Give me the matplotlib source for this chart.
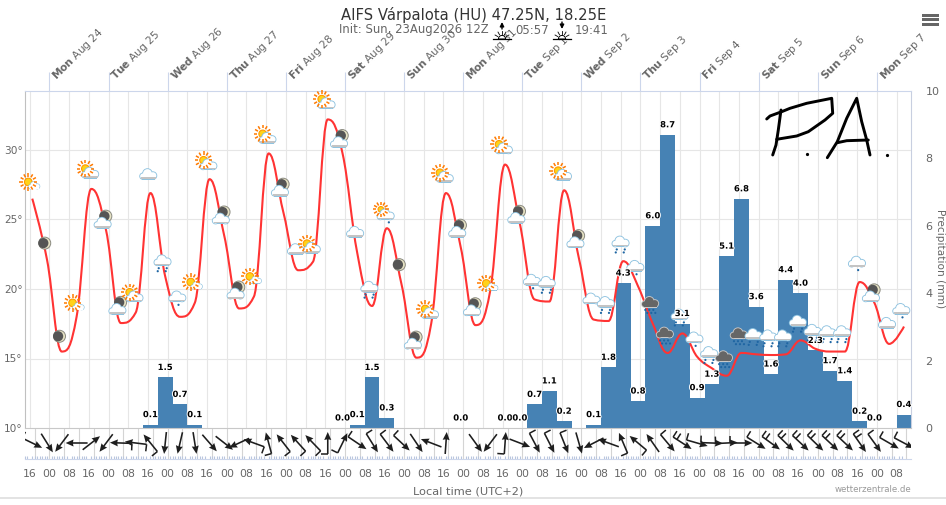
import numpy as np
import matplotlib
matplotlib.use("Agg")
import matplotlib.pyplot as plt
import matplotlib.patheffects as pe
from matplotlib.path import Path
from matplotlib.patches import PathPatch, Circle, Rectangle, Wedge

W, H = 946, 505
GREY = "#666666"
AXIS_BLUE = "#ccd6eb"
GRID = "#e6e6e6"

# one step every 6 hours, counted in hours from Mon Aug 24 00:00
hours = list(range(-7, 348, 6))
temperature = [26.5, 22.1, 15.5, 18.0, 27.2, 24.2, 17.55, 18.3, 26.9, 20.9,
               18.0, 19.0, 27.9, 23.8, 18.6, 19.45, 29.75, 25.5, 21.35, 21.96,
               32.2, 29.76, 22.57, 18.78, 24.37, 20.3, 15.06, 17.5, 26.9, 23.0,
               17.4, 19.9, 28.95, 24.7, 19.25, 19.1, 27.1, 22.2, 17.8, 17.7,
               22.0, 20.2, 17.5, 15.4, 16.8, 15.13, 14.3, 13.76, 15.4, 15.3,
               15.25, 15.3, 16.3, 15.7, 15.5, 15.5, 20.5, 19.0, 16.05, 17.3]
rain = [None, None, None, None, None, None, None, None, 0.1, 1.5,
        0.7, 0.1, None, None, None, None, None, None, None, None,
        None, 0.0, 0.1, 1.5, 0.3, None, None, None, None, 0.0,
        None, None, 0.0, 0.0, 0.7, 1.1, 0.2, None, 0.1, 1.8,
        4.3, 0.8, 6.0, 8.7, 3.1, 0.9, 1.3, 5.1, 6.8, 3.6,
        1.6, 4.4, 4.0, 2.3, 1.7, 1.4, 0.2, 0.0, None, 0.4]
icon_kind = ["sun", "moon", "moon", "sun", "sunc", "moonc", "moonc", "sunc", "cloud", "rain",
             "rain1", "sun", "sunc", "moonc", "moonc", "sun", "sunc", "moonc", "cloud", "sunc",
             "sunc", "moonc", "cloud", "rain", "sunr", "moon", "moonc", "sunc", "sunc", "moonc",
             "moonc", "sun", "sunc", "moonc", "rain1", "rain", "sunc", "moonc", "cloud", "rain",
             "rain", "rain1", "storm", "storm", "rain", "rain1", "rain", "storm", "storm", "rain",
             "rain", "rain", "rain", "rain", "rain", "rain", "rain1", "moonc", "cloud", "rain1"]
icon_temp = [27.7, 23.3, 16.6, 19.0, 28.3, 24.7, 18.5, 19.4, 28.2, 22.0,
             19.4, 20.5, 28.9, 25.0, 19.6, 20.9, 30.8, 27.0, 22.8, 22.9,
             33.3, 30.5, 24.05, 20.1, 25.3, 21.75, 16.0, 18.2, 28.0, 24.05,
             18.4, 20.4, 30.05, 25.05, 20.6, 20.45, 28.15, 23.3, 19.25, 19.0,
             23.35, 21.6, 19.0, 16.8, 18.1, 16.45, 15.4, 15.1, 16.75, 16.7,
             16.6, 16.6, 17.65, 17.0, 16.9, 16.9, 21.9, 19.4, 17.5, 18.5]
# heading of the arrow in degrees clockwise from north, None = no arrow
wind_heading = [116, 148, 217, 270, 52, 217, 272, 277, 321, 186,
                193, 171, 139, 128, 245, 290, 345, 322, 318, 316,
                0, 26, 124, 148, 143, 133, 146, 291, 4, None,
                144, 217, 4, 111, 152, 153, 158, 164, 243, 290,
                337, 310, 325, 140, 123, 106, 92, 87, 90, 122,
                126, 134, 133, 134, 133, 133, 145, 144, 120, 118]
wind_barbs = [1, 0, 0, 0, 0, 0, 1, 1, 1, 0,
              0, 0, 0, 0, 0, 1, 1, 1, 1, 1,
              1, 1, 1, 1, 1, 1, 0, 0, 0, 0,
              0, 0, 1, 0, 1, 1, 1, 0, 0, 0,
              1, 1, 0, 1, 2, 1, 1, 1, 1, 1,
              2, 2, 2, 2, 2, 2, 2, 1, 1, 1]

day_hours = list(range(0, 337, 24))
day_names = ["Mon", "Tue", "Wed", "Thu", "Fri", "Sat", "Sun", "Mon", "Tue", "Wed", "Thu", "Fri", "Sat", "Sun", "Mon"]
day_dates = ["Aug 24", "Aug 25", "Aug 26", "Aug 27", "Aug 28", "Aug 29", "Aug 30", "Aug 31",
             "Sep 1", "Sep 2", "Sep 3", "Sep 4", "Sep 5", "Sep 6", "Sep 7"]
temp_ticks = [10, 15, 20, 25, 30]
rain_ticks = [0, 2, 4, 6, 8, 10]
time_ticks = list(range(-8, 345, 8))
time_labels = ["16", "00", "08"] * 15


def make_axes(left, top, right, bottom):
    return fig.add_axes([left / W, 1 - bottom / H, (right - left) / W, (bottom - top) / H])


def spline_path(xs, ys):
    # same rule as a highcharts spline, smoothing 1.5
    n = len(xs)
    left_c = [(xs[i], ys[i]) for i in range(n)]
    right_c = [(xs[i], ys[i]) for i in range(n)]
    for i in range(1, n - 1):
        lx = (1.5 * xs[i] + xs[i - 1]) / 2.5
        ly = (1.5 * ys[i] + ys[i - 1]) / 2.5
        rx = (1.5 * xs[i] + xs[i + 1]) / 2.5
        ry = (1.5 * ys[i] + ys[i + 1]) / 2.5
        corr = (ry - ly) * (rx - xs[i]) / (rx - lx) + ys[i] - ry
        ly += corr
        ry += corr
        if ly > ys[i - 1] and ly > ys[i]:
            ly = max(ys[i - 1], ys[i])
            ry = 2 * ys[i] - ly
        elif ly < ys[i - 1] and ly < ys[i]:
            ly = min(ys[i - 1], ys[i])
            ry = 2 * ys[i] - ly
        if ry > ys[i + 1] and ry > ys[i]:
            ry = max(ys[i + 1], ys[i])
            ly = 2 * ys[i] - ry
        elif ry < ys[i + 1] and ry < ys[i]:
            ry = min(ys[i + 1], ys[i])
            ly = 2 * ys[i] - ry
        left_c[i] = (lx, ly)
        right_c[i] = (rx, ry)
    verts = [(xs[0], ys[0])]
    codes = [Path.MOVETO]
    for i in range(1, n):
        verts += [right_c[i - 1], left_c[i], (xs[i], ys[i])]
        codes += [Path.CURVE4] * 3
    return Path(verts, codes)


def draw_cloud(cx, cy, scale=1.0, face="#ffffff", edge="#8fc3e0", base="#c4c4c4"):
    parts = [(-5.5, 1.2, 2.8), (-1, -1.5, 4.4), (4.5, 0.6, 3.4)]
    for dx, dy, r in parts:
        ov.add_patch(Circle((cx + dx * scale, cy + dy * scale), (r + 0.9) * scale, color=edge, lw=0))
    ov.add_patch(Rectangle((cx - 6 * scale, cy), 12.5 * scale, 4.9 * scale, color=edge, lw=0))
    for dx, dy, r in parts:
        ov.add_patch(Circle((cx + dx * scale, cy + dy * scale), r * scale, color=face, lw=0))
    ov.add_patch(Rectangle((cx - 6 * scale, cy), 12.5 * scale, 4 * scale, color=face, lw=0))
    if base:
        ov.add_patch(Rectangle((cx - 7.5 * scale, cy + 2.4 * scale), 15 * scale, 1.6 * scale, color=base, lw=0))


def draw_sun(cx, cy, r=3.8):
    for a in np.arange(0, 360, 30):
        c, s = np.cos(np.radians(a)), np.sin(np.radians(a))
        ov.plot([cx + c * (r + 1.6), cx + c * (r + 5)], [cy + s * (r + 1.6), cy + s * (r + 5)],
                color="#ff7a00", lw=1.1, solid_capstyle="butt")
    ov.add_patch(Circle((cx, cy), r, fc="#ffd21a", ec="#ff9a00", lw=0.8))


def draw_moon(cx, cy, r=6):
    ov.add_patch(Circle((cx, cy), r, fc="#e6e2c4", ec="#8a8a80", lw=0.7))
    ov.add_patch(Circle((cx - 1.4, cy), r - 0.9, fc="#555555", lw=0))


def draw_drops(cx, cy, spots):
    for dx, dy in spots:
        ov.add_patch(Circle((cx + dx, cy + dy), 1.1, color="#1f66a3", lw=0))


def draw_icon(kind, x, y):
    if kind == "sun":
        x -= 4
        draw_sun(x, y)
        draw_cloud(x + 6, y + 4, 0.68, base=None)
    elif kind == "sunc":
        x -= 1
        draw_sun(x - 5, y - 5)
        draw_cloud(x, y)
    elif kind == "sunr":
        x -= 1
        draw_sun(x - 5, y - 6, 2.8)
        draw_cloud(x, y)
        draw_drops(x + 3, y + 7, [(0, 0)])
    elif kind == "moon":
        draw_moon(x - 2.3, y)
    elif kind == "moonc":
        x -= 3.3
        draw_moon(x + 3, y - 7.5)
        draw_cloud(x, y)
    elif kind == "cloud":
        draw_cloud(x - 2, y)
    elif kind == "rain1":
        x -= 2.5
        draw_cloud(x, y)
        draw_drops(x + 1, y + 7.5, [(0, 0)])
    elif kind == "rain":
        x -= 2.5
        draw_cloud(x, y)
        draw_drops(x, y + 7, [(-4, 0), (4, 0), (-5, 3), (3, 3)])
    elif kind == "storm":
        x -= 2.5
        draw_cloud(x, y, face="#666666", edge="#c8c8c8", base=None)
        draw_drops(x, y + 7, [(-5, 0), (-1, 0), (3, 0), (-3, 3), (1, 3), (5, 3)])


plt.rcParams["font.family"] = ["DejaVu Sans"]
plt.rcParams["mathtext.fontset"] = "dejavusans"

fig = plt.figure(figsize=(W / 100, H / 100), dpi=100, facecolor="white")
px_per_hour = 59.1 / 24
x_min = -10.15
x_max = x_min + (911 - 24.5) / px_per_hour

# rain axes sit at the bottom so the grid stays behind the bars
ax_r = make_axes(24.5, 91, 911, 428)
ax_r.set_xlim(x_min, x_max)
ax_r.set_ylim(0, 10)
ax_r.set_zorder(1)
ax_t = ax_r.twinx()
ax_t.set_ylim(10, 10 + 337 / 13.9)
ax_t.set_zorder(2)
ax_t.patch.set_visible(False)

for h in time_ticks:
    ax_r.axvline(h, color=GRID, lw=0.8, zorder=0)
for t in temp_ticks[1:]:
    ax_r.plot([0, 1], [t, t], transform=ax_t.get_yaxis_transform(), color=GRID, lw=0.8, zorder=0)

bar_x = [h for h, v in zip(hours, rain) if v is not None]
bar_v = [v for v in rain if v is not None]
ax_r.bar(bar_x, bar_v, width=6, color="#4682b4", zorder=2)

ax_t.add_patch(PathPatch(spline_path(hours, temperature), fill=False, edgecolor="#ff3333", lw=1.5, zorder=3))

for name in ["top", "bottom", "left", "right"]:
    ax_t.spines[name].set_visible(False)
ax_r.spines["top"].set_color(AXIS_BLUE)
ax_r.spines["left"].set_color("#c0c0c0")
ax_r.spines["right"].set_color("#c8cfe0")
ax_r.spines["bottom"].set_color("#c8c8c8")

ax_r.yaxis.tick_right()
ax_r.set_yticks(rain_ticks, labels=[str(v) for v in rain_ticks])
ax_r.tick_params(axis="y", length=0, pad=10.5, labelsize=8, labelcolor=GREY)
ax_t.yaxis.tick_left()
ax_t.set_yticks(temp_ticks, labels=[f"{t}°" for t in temp_ticks])
ax_t.tick_params(axis="y", length=0, pad=1.2, labelsize=7.6, labelcolor=GREY)

ax_r.xaxis.tick_top()
ax_r.set_xticks(day_hours, labels=[rf"$\mathbf{{{n}}}$ {d}" for n, d in zip(day_names, day_dates)],
                rotation=45, ha="left", va="top", rotation_mode="anchor")
ax_r.tick_params(axis="x", length=13.6, width=0.8, color=AXIS_BLUE, pad=-1, labelsize=7.7, labelcolor=GREY)

# wind panel under the chart
ax_w = make_axes(24.5, 428, 911, 458.5)
ax_w.set_xlim(x_min, x_max)
ax_w.set_ylim(0, 30.5)
for name in ["top", "left", "right"]:
    ax_w.spines[name].set_visible(False)
ax_w.spines["bottom"].set_color(AXIS_BLUE)
ax_w.set_yticks([])
for h in range(-6, 349, 6):
    ax_w.axvline(h, color="#d4d4d4", lw=0.8, zorder=0)
ax_w.set_xticks(time_ticks, labels=time_labels)
ax_w.set_xticks(np.arange(-10, 347, 1), minor=True)
ax_w.tick_params(axis="x", which="major", length=0, pad=7.6, labelsize=7.8, labelcolor=GREY)
ax_w.tick_params(axis="x", which="minor", direction="in", length=2.5, width=0.8, color="#b9c6de")

wind_x = [h for h, d in zip(hours, wind_heading) if d is not None]
wind_d = [d for d in wind_heading if d is not None]
arrow_len = 22
wind_y = 15.5
ax_w.quiver(wind_x, [wind_y] * len(wind_x),
            [arrow_len * np.sin(np.radians(d)) for d in wind_d],
            [arrow_len * np.cos(np.radians(d)) for d in wind_d],
            angles="uv", scale_units="dots", scale=1, units="dots", pivot="mid",
            width=1.6, headwidth=4.4, headlength=5, headaxislength=4.6, color="#1e1e1e", zorder=3)
for h, d, n in zip(hours, wind_heading, wind_barbs):
    if d is None:
        continue
    ux, uy = np.sin(np.radians(d)), np.cos(np.radians(d))
    for k in range(n):
        tx = -ux * (arrow_len / 2 - 4.5 * k)
        ty = wind_y - uy * (arrow_len / 2 - 4.5 * k)
        # barb goes to the left of the heading
        bx, by = -uy * 7, ux * 7
        ax_w.plot([h + tx / px_per_hour, h + (tx + bx) / px_per_hour], [ty, ty + by],
                  color="#1e1e1e", lw=1.1, zorder=3, solid_capstyle="butt")

# overlay in pixels for icons, labels and header
ov = fig.add_axes([0, 0, 1, 1], zorder=5)
ov.set_xlim(0, W)
ov.set_ylim(H, 0)
ov.axis("off")
to_ov = ax_t.transData + ov.transData.inverted()
to_ov_rain = ax_r.transData + ov.transData.inverted()

for h, kind, t in zip(hours, icon_kind, icon_temp):
    x, y = to_ov.transform((h, t))
    draw_icon(kind, x, y)

for h, v in zip(bar_x, bar_v):
    x, y = to_ov_rain.transform((h, v))
    ov.text(x, y - 10, f"{v:.1f}", ha="center", va="center", fontsize=6.1, fontweight="bold", color="black",
            path_effects=[pe.withStroke(linewidth=1.4, foreground="white")], zorder=10)

ov.text(474, 15, "AIFS Várpalota (HU) 47.25N, 18.25E", ha="center", va="center", fontsize=10.6, color="#333333")
ov.text(339, 30, "Init: Sun, 23Aug2026 12Z", ha="left", va="center", fontsize=8.4, color=GREY)
ov.text(515, 30, "05:57", ha="left", va="center", fontsize=8.4, color=GREY)
ov.text(575, 30, "19:41", ha="left", va="center", fontsize=8.4, color=GREY)
for x, up in [(502, True), (562, False)]:
    ov.plot([x - 9, x + 9], [39, 39], color="black", lw=0.9)
    ov.add_patch(Wedge((x, 39), 3.6, 180, 360, fc="white", ec="black", lw=0.7))
    for a in [-150, -120, -90, -60, -30]:
        c, s = np.cos(np.radians(a)), np.sin(np.radians(a))
        ov.plot([x + c * 5, x + c * 8], [39 + s * 5, 39 + s * 8], color="black", lw=0.6)
    tail, tip = (29, 22) if up else (22, 29)
    ov.annotate("", xy=(x, tip), xytext=(x, tail),
                arrowprops=dict(arrowstyle="-|>", color="black", lw=1, mutation_scale=6, shrinkA=0, shrinkB=0))

for y in [15.3, 19.6, 24.6]:
    ov.add_patch(Rectangle((921.5, y - 1.3), 17, 2.7, color=GREY, lw=0))

ov.text(468, 492, "Local time (UTC+2)", ha="center", va="center", fontsize=8.2, color=GREY)
ov.text(911, 490, "wetterzentrale.de", ha="right", va="center", fontsize=6.2, color="#999999")
ov.text(939.5, 259, "Precipitation (mm)", ha="center", va="center", rotation=270, fontsize=7.6, color=GREY)
ov.plot([0, W], [498, 498], color="#e0e0e0", lw=1.3)

# hand drawn letters on top of the chart
scribble = [
    [(766.7, 119), (770, 116), (781.7, 111.7), (790, 108.3), (806.7, 103.3), (831.7, 98.3), (832.7, 113.3),
     (825, 120), (808.3, 131.7), (796.7, 136), (776.7, 139.3)],
    [(781, 110), (778.3, 130), (776, 145), (772.7, 155)],
    [(827.3, 157.7), (837.3, 141.7), (846.7, 118.3), (856.7, 98.3), (861.7, 121.7), (866.7, 140), (870, 155)],
    [(837.3, 142.7), (846.7, 140.7), (868.3, 140)],
]
for stroke in scribble:
    ov.plot(*zip(*stroke), color="black", lw=2.1, solid_capstyle="round", solid_joinstyle="round")
ov.plot([807.3, 886.7], [154, 155], ls="none", marker="o", ms=1.3, color="black")

fig.savefig("out.png", dpi=100)
